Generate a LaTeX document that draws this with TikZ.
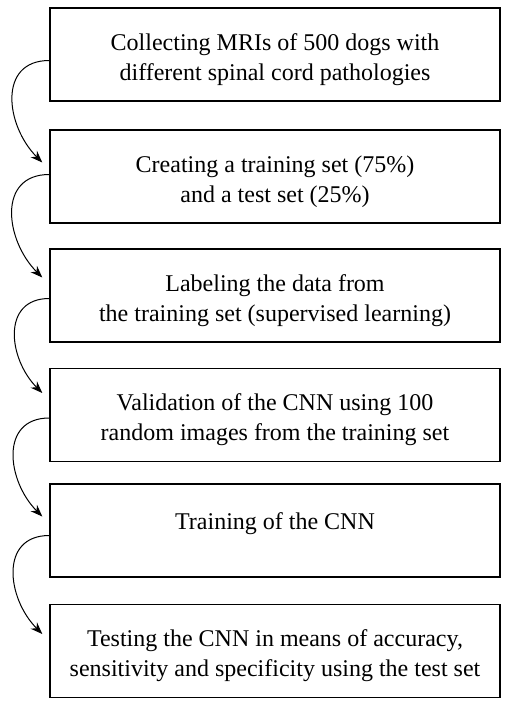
\documentclass[tikz,border=0pt]{standalone}
\usepackage{fontspec}
\setmainfont{Liberation Serif}
\usetikzlibrary{arrows.meta}
\begin{document}
\begin{tikzpicture}[x=1pt,y=-1pt,
  box/.style={draw=black, line width=1.4pt, minimum width=450pt, minimum height=93pt,
    align=center, inner sep=0pt, font=\fontsize{24}{30}\selectfont},
  flow/.style={-{Stealth[length=12pt,width=9pt]}, line width=1pt, looseness=1.3}]
\useasboundingbox (0,0) rectangle (510,708);
\newcommand\firstline{\rule{0pt}{27pt}}
\node[box] (b1) at (275,54.5) {\firstline Collecting MRIs of 500 dogs with\\different spinal cord pathologies};
\node[box] (b2) at (275,176.5) {\firstline Creating a training set (75\%)\\and a test set (25\%)};
\node[box] (b3) at (275,295.5) {\firstline Labeling the data from\\the training set (supervised learning)};
\node[box] (b4) at (275,415) {\firstline Validation of the CNN using 100\\random images from the training set};
\node[box] (b5) at (275,530.5) {\firstline Training of the CNN\\\mbox{}};
\node[box] (b6) at (275,651) {\firstline Testing the CNN in means of accuracy,\\sensitivity and specificity using the test set};
\draw[flow] ([yshift=-6pt]b1.west) to[out=180,in=135] ([xshift=-7pt,yshift=14pt]b2.west);
\draw[flow] ([yshift=2pt]b2.west) to[out=180,in=135] ([xshift=-7pt,yshift=18pt]b3.west);
\draw[flow] ([yshift=-3pt]b3.west) to[out=180,in=135] ([xshift=-7pt,yshift=22pt]b4.west);
\draw[flow] ([yshift=-3pt]b4.west) to[out=180,in=135] ([xshift=-7pt,yshift=14pt]b5.west);
\draw[flow] ([yshift=-5pt]b5.west) to[out=180,in=135] ([xshift=-7pt,yshift=17pt]b6.west);
\end{tikzpicture}
\end{document}
